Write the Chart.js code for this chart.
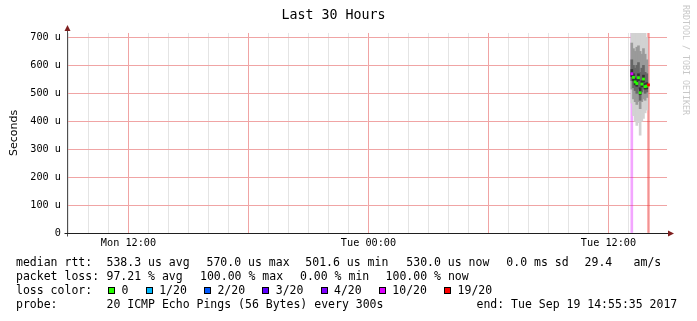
<!DOCTYPE html>
<html>
<head>
<meta charset="utf-8">
<script src="https://cdn.jsdelivr.net/npm/chart.js@4.4.0/dist/chart.umd.min.js"></script>
<style>
  html, body { margin: 0; padding: 0; background: #fff; }
  #wrap { position: relative; width: 697px; height: 321px; overflow: hidden; }
  #chart { position: absolute; left: 0; top: 0; }
  .row { position: absolute; left: 0; height: 14px; width: 697px; }
  .t { position: absolute; top: 0; font-family: 'DejaVu Sans Mono', monospace; font-size: 11.5px; line-height: 14px; white-space: pre; color: #000; }
  .lossItems { position: absolute; left: 108.3px; top: 0; display: flex; align-items: center; height: 14px; }
  .box { width: 5px; height: 5px; border: 1px solid #000; margin-right: 6.3px; }
  .lbl { font-family: 'DejaVu Sans Mono', monospace; font-size: 11.5px; line-height: 14px; white-space: pre; margin-right: 17.3px; }
  #stamp { position: absolute; left: 681px; top: 5px; writing-mode: vertical-rl; font-family: 'DejaVu Sans Mono', monospace; font-size: 8.3px; color: #c8c8c8; white-space: pre; }
</style>
</head>
<body>
<div id="wrap">
  <canvas id="chart" width="697" height="321"></canvas>
  <div id="stamp">RRDTOOL / TOBI OETIKER</div>
  <div class="row" style="top:255px">
    <span class="t" style="left:16px">median rtt:</span>
    <span class="t" style="left:106.5px">538.3 us avg</span>
    <span class="t" style="left:206.5px">570.0 us max</span>
    <span class="t" style="left:305.3px">501.6 us min</span>
    <span class="t" style="left:406.3px">530.0 us now</span>
    <span class="t" style="left:506.3px">0.0 ms sd</span>
    <span class="t" style="left:584.6px">29.4</span>
    <span class="t" style="left:633.6px">am/s</span>
  </div>
  <div class="row" style="top:268.5px">
    <span class="t" style="left:16px">packet loss:</span>
    <span class="t" style="left:106.5px">97.21 % avg</span>
    <span class="t" style="left:200px">100.00 % max</span>
    <span class="t" style="left:300px">0.00 % min</span>
    <span class="t" style="left:385.6px">100.00 % now</span>
  </div>
  <div class="row" style="top:283px">
    <span class="t" style="left:16px">loss color:</span>
    <div class="lossItems" id="lossItems"></div>
  </div>
  <div class="row" style="top:296.5px">
    <span class="t" style="left:16px">probe:</span>
    <span class="t" style="left:106.5px">20 ICMP Echo Pings (56 Bytes) every 300s</span>
    <span class="t" style="left:476.5px">end: Tue Sep 19 14:55:35 2017</span>
  </div>
</div>
<script>
// Smokeping style graph, last 30 hours (values in microseconds)

// x axis runs from Mon 08:55:35 to Tue 14:55:35, in hours since Mon 00:00
const xStart = 8.9264;
const xEnd = 38.9264;
const yMax = 716;

const xLabelHours = [12, 24, 36];
const xLabelTexts = ['Mon 12:00', 'Tue 00:00', 'Tue 12:00'];

// samples (Tuesday), 5 minute steps
const sampleTimes = ['13:10', '13:15', '13:20', '13:25', '13:30', '13:35', '13:40', '13:45', '13:50', '13:55', '14:00'];
const medianRtt = [570, 557, 541, 535, 556, 502, 533, 551, 524, 526, 530];
const lossCount = [10, 0, 0, 0, 0, 0, 0, 0, 0, 0, 19];

// smoke: spread of the 20 pings per sample
const pingMin = [465, 420, 400, 385, 395, 350, 400, 410, 430, 440, null];
const pingP10 = [515, 480, 470, 460, 470, 445, 470, 480, 475, 485, null];
const pingP25 = [545, 520, 510, 500, 515, 475, 505, 515, 500, 505, null];
const pingP40 = [560, 545, 530, 525, 545, 495, 523, 540, 515, 516, null];
const pingP60 = [585, 570, 555, 550, 570, 520, 545, 565, 535, 538, null];
const pingP75 = [620, 600, 590, 600, 610, 575, 590, 600, 575, 570, null];
const pingP90 = [680, 660, 650, 665, 670, 650, 640, 660, 640, 620, null];
const pingMax = [760, 750, 740, 760, 740, 730, 760, 740, 720, 700, null];

// loss legend
const lossSteps = [0, 1, 2, 3, 4, 10, 19];
const lossLabels = ['0', '1/20', '2/20', '3/20', '4/20', '10/20', '19/20'];
const lossColors = ['#26ff00', '#00b8ff', '#0059ff', '#5e00ff', '#7e00ff', '#dd00ff', '#ff0000'];

function toHours(hhmm, dayOffset) {
  const [h, m] = hhmm.split(':').map(Number);
  return dayOffset + h + m / 60;
}

function lossColor(n) {
  let c = lossColors[0];
  lossSteps.forEach((s, i) => { if (n >= s) c = lossColors[i]; });
  return c;
}

function hexAlpha(hex, a) {
  const r = parseInt(hex.slice(1, 3), 16), g = parseInt(hex.slice(3, 5), 16), b = parseInt(hex.slice(5, 7), 16);
  return `rgba(${r},${g},${b},${a})`;
}

const xs = sampleTimes.map(t => toHours(t, 24));

function band(lo, hi) {
  const out = [];
  xs.forEach((x, i) => {
    if (lo[i] != null && hi[i] != null) out.push({ x, y: [lo[i], hi[i]] });
  });
  return out;
}

const lossBars = [];
const lossBarColors = [];
xs.forEach((x, i) => {
  if (lossCount[i] > 0) {
    lossBars.push({ x, y: [0, yMax] });
    lossBarColors.push(hexAlpha(lossColor(lossCount[i]), 0.35));
  }
});

// legend boxes
const lossItems = document.getElementById('lossItems');
lossLabels.forEach((l, i) => {
  const b = document.createElement('span');
  b.className = 'box';
  b.style.background = lossColors[i];
  const s = document.createElement('span');
  s.className = 'lbl';
  s.textContent = l;
  lossItems.appendChild(b);
  lossItems.appendChild(s);
});

const RED_GRID = '#f0a4a4';
const GRAY_GRID = '#e4e4e4';

// y ticks every 50 u, major (red) every 100 u
const yTicks = [];
for (let v = 0; v <= yMax; v += 50) yTicks.push(v);
const yGridColors = yTicks.map(v => v % 100 === 0 ? RED_GRID : GRAY_GRID);

// hour grid: red every 6 hours, gray otherwise
const xGridColor = c => (c.tick && Math.round(c.tick.value) % 6 === 0) ? RED_GRID : GRAY_GRID;

const axisArrows = {
  id: 'axisArrows',
  afterDraw(chart) {
    const { ctx, chartArea: a } = chart;
    const left = Math.round(a.left) + 0.5;
    const bottom = Math.round(a.bottom) + 0.5;
    ctx.save();
    ctx.lineWidth = 1;
    ctx.strokeStyle = '#505050';
    ctx.beginPath();
    ctx.moveTo(left, a.top);
    ctx.lineTo(left, a.top - 3);
    ctx.moveTo(left, bottom);
    ctx.lineTo(left, bottom + 3);
    ctx.stroke();
    ctx.strokeStyle = '#1f1f1f';
    ctx.beginPath();
    ctx.moveTo(left - 3, bottom);
    ctx.lineTo(a.right + 1, bottom);
    ctx.stroke();
    ctx.fillStyle = '#7f1f1f';
    ctx.beginPath();
    ctx.moveTo(left, a.top - 8);
    ctx.lineTo(left - 3, a.top - 2);
    ctx.lineTo(left + 3, a.top - 2);
    ctx.closePath();
    ctx.fill();
    ctx.beginPath();
    ctx.moveTo(a.right + 7, bottom);
    ctx.lineTo(a.right + 1, bottom - 3);
    ctx.lineTo(a.right + 1, bottom + 3);
    ctx.closePath();
    ctx.fill();
    ctx.restore();
  }
};

const smokeBar = { type: 'bar', grouped: false, barThickness: 2, borderWidth: 0 };

new Chart(document.getElementById('chart'), {
  type: 'bar',
  data: {
    datasets: [
      {
        type: 'scatter',
        data: xs.map((x, i) => ({ x, y: medianRtt[i] })),
        pointStyle: 'rect',
        pointRadius: 2,
        pointBorderWidth: 0,
        pointBackgroundColor: lossCount.map(lossColor),
        order: 0
      },
      { ...smokeBar, data: band(pingP40, pingP60), backgroundColor: '#333333', order: 1 },
      { ...smokeBar, data: band(pingP25, pingP75), backgroundColor: '#666666', order: 2 },
      { ...smokeBar, data: band(pingP10, pingP90), backgroundColor: '#9a9a9a', order: 3 },
      { ...smokeBar, data: band(pingMin, pingMax), backgroundColor: '#d2d2d2', order: 4 },
      { ...smokeBar, data: lossBars, backgroundColor: lossBarColors, order: 5 }
    ]
  },
  options: {
    responsive: false,
    animation: false,
    devicePixelRatio: 1,
    layout: { padding: { top: 0, left: 0, right: 30, bottom: 68 } },
    plugins: {
      legend: { display: false },
      tooltip: { enabled: false },
      title: {
        display: true,
        text: 'Last 30 Hours',
        color: '#000',
        font: { family: 'DejaVu Sans Mono', size: 13.3, weight: 'normal' },
        padding: { top: 7.5, bottom: 9.5 }
      }
    },
    scales: {
      x: {
        type: 'linear',
        min: xStart,
        max: xEnd,
        offset: false,
        afterFit: s => { s.height = 20; },
        afterBuildTicks: s => {
          const t = [];
          for (let h = Math.ceil(xStart); h <= xEnd; h++) t.push({ value: h });
          s.ticks = t;
        },
        grid: { offset: false, drawTicks: false, color: xGridColor },
        border: { display: true, color: '#1f1f1f', width: 1 },
        ticks: {
          autoSkip: false,
          maxRotation: 0,
          minRotation: 0,
          padding: 4,
          color: '#000',
          font: { family: 'DejaVu Sans Mono', size: 10.2 },
          callback: v => {
            const i = xLabelHours.indexOf(v);
            return i >= 0 ? xLabelTexts[i] : '';
          }
        }
      },
      y: {
        type: 'linear',
        min: 0,
        max: yMax,
        afterFit: s => { s.width = 67; },
        afterBuildTicks: s => { s.ticks = yTicks.map(v => ({ value: v })); },
        grid: { drawTicks: false, color: yGridColors },
        border: { display: true, color: '#505050', width: 1 },
        title: {
          display: true,
          text: 'Seconds',
          color: '#000',
          font: { family: 'DejaVu Sans', size: 11 },
          padding: { top: 8, bottom: 4 }
        },
        ticks: {
          padding: 6,
          color: '#000',
          font: { family: 'DejaVu Sans Mono', size: 10.2 },
          callback: v => v % 100 !== 0 ? '' : (v === 0 ? '0' : v + ' u')
        }
      }
    }
  },
  plugins: [axisArrows]
});
</script>
</body>
</html>
